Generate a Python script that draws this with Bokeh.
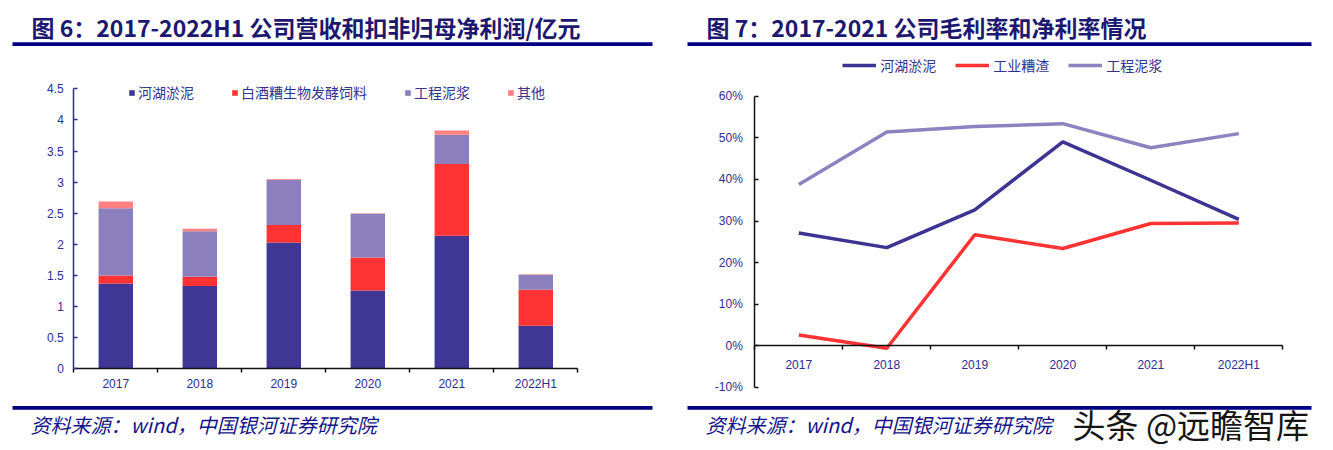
import numpy as np
from bokeh.plotting import figure
from bokeh.models import (ColumnDataSource, Range1d, FixedTicker, Legend, LegendItem,
                          Label, BoxAnnotation)
from bokeh.layouts import row
from bokeh.embed import file_html
from bokeh.resources import INLINE

# ---------------- data ----------------
categories = ["2017", "2018", "2019", "2020", "2021", "2022H1"]

rev_names = ["河湖淤泥", "白酒糟生物发酵饲料", "工程泥浆", "其他"]
rev_hehu = [1.37, 1.33, 2.03, 1.26, 2.14, 0.69]
rev_baijiu = [0.13, 0.15, 0.28, 0.53, 1.15, 0.58]
rev_gongcheng = [1.08, 0.73, 0.73, 0.70, 0.47, 0.24]
rev_qita = [0.11, 0.04, 0.01, 0.01, 0.07, 0.01]
rev_yticks = [0, 0.5, 1, 1.5, 2, 2.5, 3, 3.5, 4, 4.5]
rev_ytick_labels = ["0", "0.5", "1", "1.5", "2", "2.5", "3", "3.5", "4", "4.5"]

margin_names = ["河湖淤泥", "工业糟渣", "工程泥浆"]
margin_hehu = [27.1, 23.6, 32.7, 49.0, 39.8, 30.4]
margin_zaozha = [2.6, -0.6, 26.7, 23.4, 29.4, 29.5]
margin_nijiang = [38.8, 51.4, 52.7, 53.4, 47.6, 51.0]
margin_yticks = [-10, 0, 10, 20, 30, 40, 50, 60]
margin_ytick_labels = ["-10%", "0%", "10%", "20%", "30%", "40%", "50%", "60%"]

title_left = "图 6：2017-2022H1 公司营收和扣非归母净利润/亿元"
title_right = "图 7：2017-2021 公司毛利率和净利率情况"
source_text = "资料来源：wind，中国银河证券研究院"
watermark_text = "头条 @远瞻智库"

# ---------------- styles ----------------
CJK = "Noto Sans CJK SC"
NUMF = "Liberation Sans"
NAVY_TXT = "#2e2e8f"
TITLE_C = "#1c1870"
RULE_C = "#000080"
BAR_COLORS = ["#403694", "#ff3333", "#8b80bd", "#ff8080"]
LINE_COLORS = ["#3d3393", "#ff3333", "#8c82c0"]

ORIGIN = 0      # the canvas sits at the page's top-left corner
H = 448
L_W = 680
R_W = 650

n = len(categories)
centers = list(np.arange(n) + 0.5)
bounds_ticks = list(range(n + 1))


def base_fig(width, x0_px, kx, y0_px, ky, left_px):
    top_px, bot_px = ORIGIN, ORIGIN + H
    xr = Range1d((left_px - x0_px) / kx, (left_px + width - x0_px) / kx)
    yr = Range1d((y0_px - bot_px) / ky, (y0_px - top_px) / ky)
    p = figure(width=width, height=H, x_range=xr, y_range=yr, output_backend="svg",
               toolbar_location=None, title=None, min_border=0)
    p.min_border_left = p.min_border_right = p.min_border_top = p.min_border_bottom = 0
    p.outline_line_color = None
    p.grid.visible = False
    p.background_fill_color = "white"
    p.border_fill_color = "white"
    px2x = lambda px: (px - x0_px) / kx
    py2y = lambda py: (y0_px - py) / ky
    return p, px2x, py2y


def style_axes(p, yticks, ylabels, ybounds, y_axis_color, x_standoff, y_standoff):
    xa = p.xaxis[0]
    xa.fixed_location = 0
    xa.bounds = (0, n)
    xa.ticker = FixedTicker(ticks=centers, minor_ticks=bounds_ticks)
    xa.major_label_overrides = {c: lab for c, lab in zip(centers, categories)}
    xa.major_tick_in = 0
    xa.major_tick_out = 0
    xa.minor_tick_in = 0
    xa.minor_tick_out = 4
    xa.minor_tick_line_color = "#111111"
    xa.minor_tick_line_width = 1.5
    xa.axis_line_color = "#111111"
    xa.axis_line_width = 1.5
    xa.major_label_text_font = NUMF
    xa.major_label_text_font_size = "12px"
    xa.major_label_text_color = NAVY_TXT
    xa.major_label_standoff = x_standoff

    ya = p.yaxis[0]
    ya.fixed_location = 0
    ya.bounds = ybounds
    ya.ticker = FixedTicker(ticks=yticks, minor_ticks=[])
    ya.major_label_overrides = {t: lab for t, lab in zip(yticks, ylabels)}
    ya.major_tick_in = 4
    ya.major_tick_out = 0
    ya.major_tick_line_color = y_axis_color
    ya.major_tick_line_width = 1.5
    ya.minor_tick_in = 0
    ya.minor_tick_out = 0
    ya.axis_line_color = y_axis_color
    ya.axis_line_width = 1.5
    ya.major_label_text_font = NUMF
    ya.major_label_text_font_size = "12px"
    ya.major_label_text_color = NAVY_TXT
    ya.major_label_standoff = y_standoff


def decorate(p, px2x, py2y, title, title_px, rule_l, rule_r, source_px):
    p.add_layout(Label(x=px2x(title_px), y=py2y(26.5), text=title, text_baseline="middle",
                       text_align="left", text_font=CJK, text_font_style="bold",
                       text_font_size="23px", text_color=TITLE_C))
    p.add_layout(BoxAnnotation(left=px2x(rule_l), right=px2x(rule_r), top=py2y(41.8),
                               bottom=py2y(45.6), fill_color=RULE_C, fill_alpha=1,
                               line_color=None))
    p.add_layout(BoxAnnotation(left=px2x(rule_l), right=px2x(rule_r), top=py2y(405.6),
                               bottom=py2y(409.3), fill_color=RULE_C, fill_alpha=1,
                               line_color=None))
    p.add_layout(Label(x=px2x(source_px), y=py2y(424), text=source_text, text_baseline="middle",
                       text_align="left", text_font=CJK, text_font_style="italic",
                       text_font_size="20px", text_color="#14148a"))


# ---------------- left: stacked bars ----------------
p1, l_x, l_y = base_fig(L_W, 73.3, 84.0, 368.3, 62.22, ORIGIN)
src = ColumnDataSource(dict(x=centers, hehu=rev_hehu, baijiu=rev_baijiu,
                            gongcheng=rev_gongcheng, qita=rev_qita))
bars = p1.vbar_stack(["hehu", "baijiu", "gongcheng", "qita"], x="x", width=0.41,
                     color=BAR_COLORS, line_color=None, source=src)
style_axes(p1, rev_yticks, rev_ytick_labels, (0, 4.5), "#2d2d8a", 4, 10)
leg1 = Legend(items=[LegendItem(label=nm, renderers=[r]) for nm, r in zip(rev_names, bars)],
              orientation="horizontal", location=(128 - ORIGIN, H - 102.3), padding=0, margin=0,
              spacing=37, label_standoff=3, glyph_width=7, glyph_height=7, label_height=14,
              label_text_font=CJK, label_text_font_size="14px", label_text_color="#33338f",
              border_line_color=None, background_fill_alpha=0)
p1.add_layout(leg1)
decorate(p1, l_x, l_y, title_left, 31, 12, 652, 30)

# ---------------- right: lines ----------------
p2, r_x, r_y = base_fig(R_W, 754.3, 88.0, 345.3, 4.16, ORIGIN + L_W)
lines = []
for vals, col in zip([margin_hehu, margin_zaozha, margin_nijiang], LINE_COLORS):
    lines.append(p2.line(x=centers, y=vals, line_color=col, line_width=3.5))
style_axes(p2, margin_yticks, margin_ytick_labels, (-10, 60), "#111111", 8, 12)
leg2 = Legend(items=[LegendItem(label=nm, renderers=[r]) for nm, r in zip(margin_names, lines)],
              orientation="horizontal", location=(842.3 - (ORIGIN + L_W), H - 75.4), padding=0,
              margin=0, spacing=19, label_standoff=4, glyph_width=34, glyph_height=14,
              label_height=14, label_text_font=CJK, label_text_font_size="14px",
              label_text_color="#33338f", border_line_color=None, background_fill_alpha=0)
p2.add_layout(leg2)
decorate(p2, r_x, r_y, title_right, 706, 687, 1311, 705)
p2.add_layout(Label(x=r_x(1072), y=r_y(423), text=watermark_text, text_baseline="middle",
                    text_align="left", text_font=CJK, text_font_size="33px",
                    text_color="#151515"))

layout = row(p1, p2)
open("out.html", "w").write(file_html(layout, INLINE))
